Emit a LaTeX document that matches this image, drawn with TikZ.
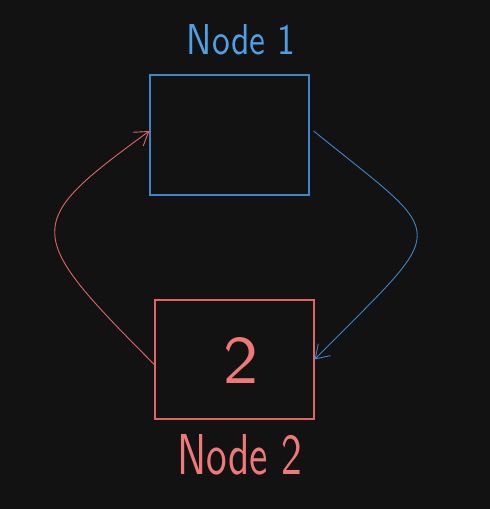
\documentclass[tikz,border=0pt]{standalone}
\usetikzlibrary{arrows.meta}
\usepackage{graphicx}
\definecolor{bg}{HTML}{121212}
\definecolor{bluebox}{HTML}{3F84C8}
\definecolor{bluetxt}{HTML}{4EA0E8}
\definecolor{redbox}{HTML}{E06666}
\definecolor{redtxt}{HTML}{F07878}
\tikzset{
  box/.style={draw, line width=1.3pt, minimum width=159pt, minimum height=120pt, inner sep=0pt},
  link/.style={line width=0.9pt, -{Straight Barb[length=13pt,width=17pt,line width=0.9pt]}},
  lbl/.style={inner sep=0pt, font=\sffamily}
}
\begin{document}
\begin{tikzpicture}[x=1pt,y=-1pt]
\fill[bg] (0,0) rectangle (490,509);
\useasboundingbox (0,0) rectangle (490,509);
\node[box, draw=bluebox] (n1) at (229.5,135) {};
\node[box, draw=redbox, minimum height=119pt] (n2) at (234.5,359.5) {};
\node[lbl, text=bluetxt] (l1) at (241,40) {\resizebox{108pt}{30pt}{Node 1}};
\node[lbl, text=redtxt] (l2) at (240,455) {\resizebox{125pt}{40pt}{Node 2}};
\node[lbl, text=redtxt] (t2) at (240.5,360) {\resizebox{35pt}{46pt}{2}};
\draw[link, redbox] ([yshift=-5pt]n2.west) .. controls (22.5,232.5) and (22.5,223.5) .. ([yshift=4pt]n1.west);
\draw[link, bluebox] ([yshift=4pt,xshift=4pt]n1.east) .. controls (451.5,243) and (451.5,220.5) .. (n2.east);
\end{tikzpicture}
\end{document}
